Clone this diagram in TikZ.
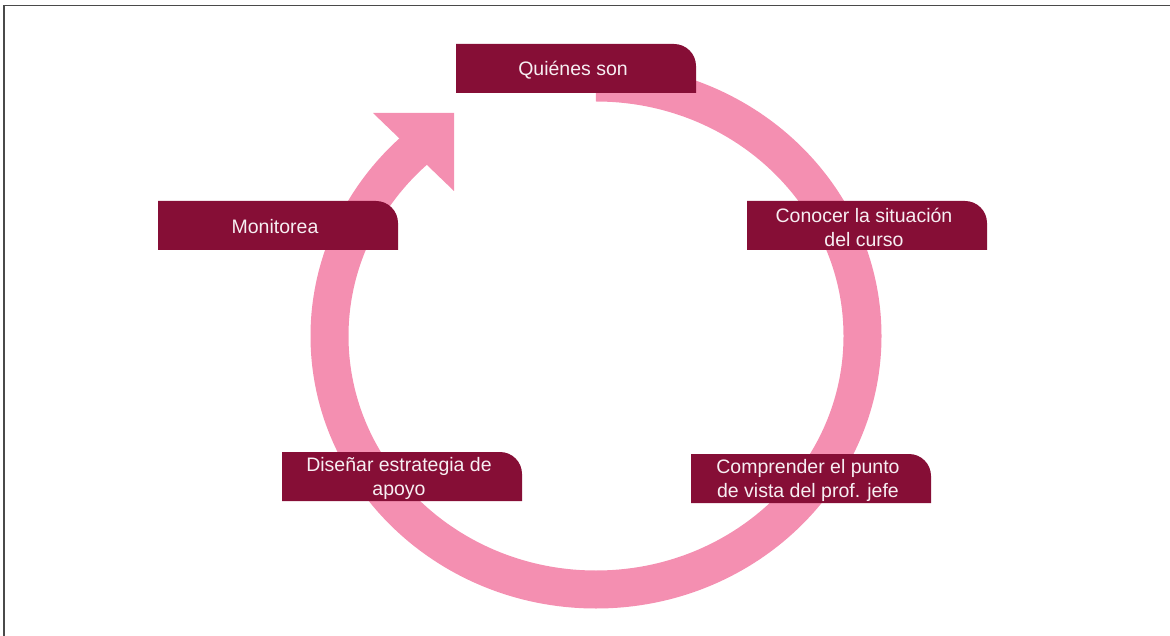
\documentclass[tikz,border=0pt]{standalone}
\usepackage{fontspec}
\setmainfont{Liberation Sans}
\definecolor{ringc}{HTML}{F48FB1}
\definecolor{tagc}{HTML}{860E36}
\definecolor{framec}{HTML}{4A4A4A}
\definecolor{tagtxt}{HTML}{F7EEF2}
\tikzset{
  tagtext/.style={text=tagtxt, font=\fontsize{19.5}{24}\selectfont, align=center, inner sep=0pt},
  ringline/.style={draw=ringc, line width=38pt},
  framel/.style={draw=framec, line width=1.4pt}
}
\newcommand\tagbox[4]{%
  \fill[tagc] (#2,-#3) -- ++(218,0) arc[start angle=90,end angle=0,radius=22] -- ++(0,-27) -- ++(-240,0) -- cycle;
  \node[tagtext] (#1) at (#2+117,-#3-26) {#4};}
\begin{document}
\begin{tikzpicture}[x=1pt,y=1pt]
\useasboundingbox (0,0) rectangle (1170,-636);
% frame
\draw[framel] (4,-640) -- (4,-5.5) -- (1175,-5.5);
% ring
\coordinate (rstart) at (596,-82.5);
\draw[ringline] (rstart) arc[start angle=90, end angle=-230, x radius=266.5, y radius=253.5];
% arrow head
\coordinate (tip) at (454,-113);
\fill[ringc] (373,-113) -- (tip) -- (454,-191) -- cycle;
% boxes
\tagbox{q}{456}{44}{Quiénes son}
\tagbox{c}{747}{201}{Conocer la situación\\del curso}
\tagbox{p}{691}{454}{Comprender el punto\\de vista del prof. jefe}
\tagbox{d}{282}{452}{Diseñar estrategia de\\apoyo}
\tagbox{m}{158}{201}{Monitorea}
\end{tikzpicture}
\end{document}
